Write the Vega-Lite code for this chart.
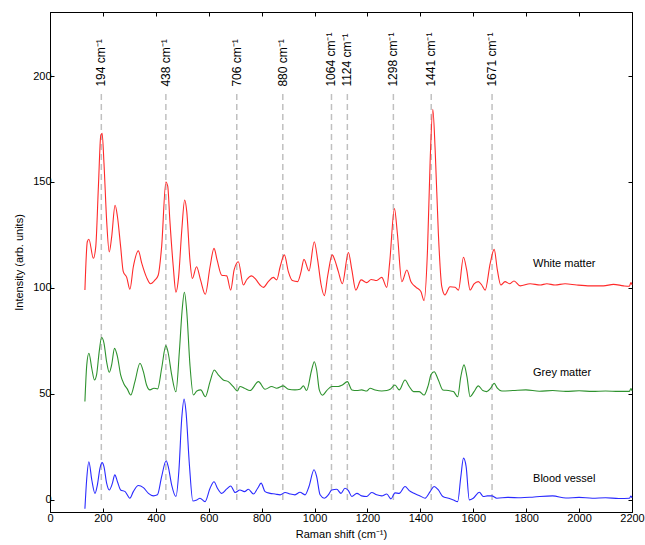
{
  "$schema": "https://vega.github.io/schema/vega-lite/v6.json",
  "autosize": "none",
  "width": 582,
  "height": 500,
  "padding": {"left": 50, "top": 12, "right": 13, "bottom": 33},
  "background": "white",
  "config": {
    "font": "Liberation Sans",
    "view": {"stroke": "#000000", "strokeWidth": 1},
    "axis": {"grid": false, "domainColor": "#000000", "tickColor": "#000000", "labelColor": "#000000", "labelFont": "Liberation Sans", "labelFontSize": 11, "titleFont": "Liberation Sans", "titleFontSize": 11, "titleFontWeight": "normal", "titleColor": "#000000", "tickSize": -4, "domainWidth": 1}
  },
  "datasets": {
    "spectra": [
      {"s":"White matter","x":132,"y":99},{"s":"White matter","x":141,"y":121.8},{"s":"White matter","x":147,"y":123},{"s":"White matter","x":164,"y":114},{"s":"White matter","x":173,"y":119.5},{"s":"White matter","x":183,"y":148},{"s":"White matter","x":192,"y":172},{"s":"White matter","x":197,"y":173},{"s":"White matter","x":204,"y":159},{"s":"White matter","x":214,"y":132},{"s":"White matter","x":224,"y":117},{"s":"White matter","x":233,"y":124},{"s":"White matter","x":246,"y":139},{"s":"White matter","x":255,"y":133.6},{"s":"White matter","x":267,"y":119.5},{"s":"White matter","x":277,"y":107.7},{"s":"White matter","x":290,"y":105},{"s":"White matter","x":302,"y":99.4},{"s":"White matter","x":315,"y":110},{"s":"White matter","x":334,"y":117.5},{"s":"White matter","x":347,"y":111.6},{"s":"White matter","x":365,"y":105},{"s":"White matter","x":380,"y":102},{"s":"White matter","x":397,"y":103.8},{"s":"White matter","x":409,"y":106},{"s":"White matter","x":422,"y":119.5},{"s":"White matter","x":438,"y":150},{"s":"White matter","x":445,"y":148},{"s":"White matter","x":453,"y":132},{"s":"White matter","x":466,"y":110},{"s":"White matter","x":476,"y":98},{"s":"White matter","x":486,"y":105},{"s":"White matter","x":498,"y":127},{"s":"White matter","x":509,"y":141.5},{"s":"White matter","x":517,"y":136},{"s":"White matter","x":529,"y":113},{"s":"White matter","x":538,"y":104.5},{"s":"White matter","x":554,"y":110},{"s":"White matter","x":569,"y":103.8},{"s":"White matter","x":587,"y":97},{"s":"White matter","x":605,"y":110},{"s":"White matter","x":620,"y":118.7},{"s":"White matter","x":632,"y":113},{"s":"White matter","x":649,"y":106},{"s":"White matter","x":668,"y":105.7},{"s":"White matter","x":683,"y":99},{"s":"White matter","x":696,"y":108.5},{"s":"White matter","x":712,"y":112.4},{"s":"White matter","x":731,"y":101.4},{"s":"White matter","x":744,"y":104},{"s":"White matter","x":762,"y":105.7},{"s":"White matter","x":778,"y":104},{"s":"White matter","x":794,"y":101.4},{"s":"White matter","x":807,"y":100.3},{"s":"White matter","x":825,"y":103},{"s":"White matter","x":844,"y":105},{"s":"White matter","x":857,"y":103.8},{"s":"White matter","x":870,"y":110},{"s":"White matter","x":886,"y":115.6},{"s":"White matter","x":901,"y":107.7},{"s":"White matter","x":916,"y":103.5},{"s":"White matter","x":936,"y":103},{"s":"White matter","x":949,"y":107.7},{"s":"White matter","x":960,"y":113.5},{"s":"White matter","x":979,"y":108},{"s":"White matter","x":999,"y":121.8},{"s":"White matter","x":1012,"y":113},{"s":"White matter","x":1025,"y":101.4},{"s":"White matter","x":1037,"y":96.4},{"s":"White matter","x":1050,"y":106},{"s":"White matter","x":1067,"y":115.6},{"s":"White matter","x":1077,"y":113},{"s":"White matter","x":1090,"y":107.7},{"s":"White matter","x":1105,"y":102},{"s":"White matter","x":1128,"y":116.7},{"s":"White matter","x":1141,"y":108.5},{"s":"White matter","x":1156,"y":99},{"s":"White matter","x":1176,"y":103.8},{"s":"White matter","x":1197,"y":102.5},{"s":"White matter","x":1214,"y":104},{"s":"White matter","x":1235,"y":103.5},{"s":"White matter","x":1254,"y":105},{"s":"White matter","x":1273,"y":100.3},{"s":"White matter","x":1284,"y":112},{"s":"White matter","x":1302,"y":137.5},{"s":"White matter","x":1313,"y":125.8},{"s":"White matter","x":1330,"y":103},{"s":"White matter","x":1349,"y":108.5},{"s":"White matter","x":1364,"y":103},{"s":"White matter","x":1384,"y":100.3},{"s":"White matter","x":1402,"y":98.3},{"s":"White matter","x":1414,"y":94},{"s":"White matter","x":1427,"y":118},{"s":"White matter","x":1437,"y":160},{"s":"White matter","x":1447,"y":184.3},{"s":"White matter","x":1456,"y":165},{"s":"White matter","x":1468,"y":125.8},{"s":"White matter","x":1481,"y":100.6},{"s":"White matter","x":1493,"y":96.7},{"s":"White matter","x":1512,"y":100.6},{"s":"White matter","x":1531,"y":100.3},{"s":"White matter","x":1544,"y":99},{"s":"White matter","x":1563,"y":114.5},{"s":"White matter","x":1575,"y":108.5},{"s":"White matter","x":1588,"y":99},{"s":"White matter","x":1603,"y":101.9},{"s":"White matter","x":1619,"y":103},{"s":"White matter","x":1632,"y":101.4},{"s":"White matter","x":1645,"y":99},{"s":"White matter","x":1664,"y":111.6},{"s":"White matter","x":1679,"y":118.2},{"s":"White matter","x":1691,"y":108.5},{"s":"White matter","x":1704,"y":101.4},{"s":"White matter","x":1720,"y":103},{"s":"White matter","x":1737,"y":102},{"s":"White matter","x":1754,"y":103.3},{"s":"White matter","x":1777,"y":101},{"s":"White matter","x":1815,"y":102},{"s":"White matter","x":1853,"y":101.4},{"s":"White matter","x":1878,"y":102},{"s":"White matter","x":1909,"y":101.4},{"s":"White matter","x":1947,"y":102},{"s":"White matter","x":1991,"y":101.4},{"s":"White matter","x":2042,"y":101},{"s":"White matter","x":2092,"y":101},{"s":"White matter","x":2130,"y":101.7},{"s":"White matter","x":2168,"y":101},{"s":"White matter","x":2190,"y":100.8},{"s":"White matter","x":2196,"y":102.5},{"s":"White matter","x":2200,"y":101.5},
      {"s":"Grey matter","x":132,"y":46.4},{"s":"Grey matter","x":139,"y":63.7},{"s":"Grey matter","x":147,"y":69.2},{"s":"Grey matter","x":158,"y":62},{"s":"Grey matter","x":168,"y":56.6},{"s":"Grey matter","x":176,"y":59},{"s":"Grey matter","x":186,"y":70},{"s":"Grey matter","x":195,"y":76.6},{"s":"Grey matter","x":204,"y":74},{"s":"Grey matter","x":214,"y":65.2},{"s":"Grey matter","x":224,"y":60.2},{"s":"Grey matter","x":233,"y":63.7},{"s":"Grey matter","x":244,"y":71.5},{"s":"Grey matter","x":255,"y":67.6},{"s":"Grey matter","x":267,"y":59},{"s":"Grey matter","x":280,"y":54.6},{"s":"Grey matter","x":292,"y":52.4},{"s":"Grey matter","x":305,"y":49.5},{"s":"Grey matter","x":321,"y":55.8},{"s":"Grey matter","x":340,"y":64.5},{"s":"Grey matter","x":353,"y":60.5},{"s":"Grey matter","x":365,"y":54.2},{"s":"Grey matter","x":378,"y":51.9},{"s":"Grey matter","x":393,"y":52.7},{"s":"Grey matter","x":407,"y":52.4},{"s":"Grey matter","x":422,"y":62},{"s":"Grey matter","x":438,"y":72.8},{"s":"Grey matter","x":447,"y":69.2},{"s":"Grey matter","x":460,"y":59},{"s":"Grey matter","x":476,"y":51},{"s":"Grey matter","x":489,"y":70},{"s":"Grey matter","x":499,"y":88.8},{"s":"Grey matter","x":508,"y":98},{"s":"Grey matter","x":517,"y":88.8},{"s":"Grey matter","x":529,"y":63.7},{"s":"Grey matter","x":542,"y":49.5},{"s":"Grey matter","x":555,"y":51.4},{"s":"Grey matter","x":570,"y":51.9},{"s":"Grey matter","x":587,"y":48.7},{"s":"Grey matter","x":605,"y":55.8},{"s":"Grey matter","x":621,"y":61.3},{"s":"Grey matter","x":636,"y":59},{"s":"Grey matter","x":655,"y":56.6},{"s":"Grey matter","x":674,"y":55.8},{"s":"Grey matter","x":693,"y":53.4},{"s":"Grey matter","x":708,"y":51.4},{"s":"Grey matter","x":718,"y":53.5},{"s":"Grey matter","x":735,"y":52.7},{"s":"Grey matter","x":756,"y":51.6},{"s":"Grey matter","x":788,"y":55.8},{"s":"Grey matter","x":813,"y":52.2},{"s":"Grey matter","x":838,"y":53.5},{"s":"Grey matter","x":857,"y":52.7},{"s":"Grey matter","x":882,"y":53.8},{"s":"Grey matter","x":901,"y":52.2},{"s":"Grey matter","x":926,"y":51.9},{"s":"Grey matter","x":945,"y":52.2},{"s":"Grey matter","x":958,"y":53.8},{"s":"Grey matter","x":970,"y":51.6},{"s":"Grey matter","x":989,"y":61.3},{"s":"Grey matter","x":999,"y":65.2},{"s":"Grey matter","x":1008,"y":61.3},{"s":"Grey matter","x":1018,"y":51.9},{"s":"Grey matter","x":1030,"y":49.4},{"s":"Grey matter","x":1046,"y":51.6},{"s":"Grey matter","x":1065,"y":53.5},{"s":"Grey matter","x":1090,"y":53.5},{"s":"Grey matter","x":1105,"y":54.2},{"s":"Grey matter","x":1124,"y":55.8},{"s":"Grey matter","x":1141,"y":51.9},{"s":"Grey matter","x":1160,"y":51.6},{"s":"Grey matter","x":1178,"y":51.9},{"s":"Grey matter","x":1197,"y":51.4},{"s":"Grey matter","x":1210,"y":52.7},{"s":"Grey matter","x":1229,"y":51.9},{"s":"Grey matter","x":1254,"y":51.4},{"s":"Grey matter","x":1273,"y":51.6},{"s":"Grey matter","x":1286,"y":52.2},{"s":"Grey matter","x":1304,"y":54.2},{"s":"Grey matter","x":1320,"y":51.9},{"s":"Grey matter","x":1342,"y":56.6},{"s":"Grey matter","x":1358,"y":53.5},{"s":"Grey matter","x":1374,"y":51.1},{"s":"Grey matter","x":1396,"y":51.1},{"s":"Grey matter","x":1414,"y":49.5},{"s":"Grey matter","x":1430,"y":54.2},{"s":"Grey matter","x":1440,"y":59},{"s":"Grey matter","x":1452,"y":60.5},{"s":"Grey matter","x":1468,"y":56.6},{"s":"Grey matter","x":1485,"y":51.9},{"s":"Grey matter","x":1506,"y":51.6},{"s":"Grey matter","x":1525,"y":51.1},{"s":"Grey matter","x":1541,"y":48.7},{"s":"Grey matter","x":1553,"y":58.2},{"s":"Grey matter","x":1565,"y":63.7},{"s":"Grey matter","x":1576,"y":58.2},{"s":"Grey matter","x":1588,"y":48.7},{"s":"Grey matter","x":1603,"y":51.1},{"s":"Grey matter","x":1619,"y":53.8},{"s":"Grey matter","x":1636,"y":51.6},{"s":"Grey matter","x":1651,"y":51.1},{"s":"Grey matter","x":1666,"y":52.7},{"s":"Grey matter","x":1679,"y":55},{"s":"Grey matter","x":1691,"y":52.7},{"s":"Grey matter","x":1708,"y":51.4},{"s":"Grey matter","x":1750,"y":51.6},{"s":"Grey matter","x":1799,"y":51.9},{"s":"Grey matter","x":1850,"y":51.3},{"s":"Grey matter","x":1900,"y":51.6},{"s":"Grey matter","x":1950,"y":51.2},{"s":"Grey matter","x":2000,"y":51.5},{"s":"Grey matter","x":2050,"y":51.2},{"s":"Grey matter","x":2100,"y":51.4},{"s":"Grey matter","x":2150,"y":51.2},{"s":"Grey matter","x":2190,"y":51.2},{"s":"Grey matter","x":2196,"y":52.5},{"s":"Grey matter","x":2200,"y":51.5},
      {"s":"Blood vessel","x":132,"y":-4.2},{"s":"Blood vessel","x":139,"y":10.2},{"s":"Blood vessel","x":147,"y":18},{"s":"Blood vessel","x":158,"y":9.4},{"s":"Blood vessel","x":170,"y":3.1},{"s":"Blood vessel","x":179,"y":7},{"s":"Blood vessel","x":189,"y":15},{"s":"Blood vessel","x":197,"y":17.6},{"s":"Blood vessel","x":204,"y":15.7},{"s":"Blood vessel","x":214,"y":7.9},{"s":"Blood vessel","x":224,"y":4.7},{"s":"Blood vessel","x":236,"y":7.9},{"s":"Blood vessel","x":245,"y":11.8},{"s":"Blood vessel","x":255,"y":8.6},{"s":"Blood vessel","x":267,"y":4.7},{"s":"Blood vessel","x":284,"y":3.9},{"s":"Blood vessel","x":302,"y":0.8},{"s":"Blood vessel","x":315,"y":3.9},{"s":"Blood vessel","x":334,"y":6.8},{"s":"Blood vessel","x":353,"y":5.8},{"s":"Blood vessel","x":372,"y":3.1},{"s":"Blood vessel","x":391,"y":1.9},{"s":"Blood vessel","x":406,"y":2.4},{"s":"Blood vessel","x":422,"y":11},{"s":"Blood vessel","x":439,"y":18.5},{"s":"Blood vessel","x":447,"y":15.7},{"s":"Blood vessel","x":460,"y":7},{"s":"Blood vessel","x":476,"y":1.6},{"s":"Blood vessel","x":487,"y":13.4},{"s":"Blood vessel","x":498,"y":38.5},{"s":"Blood vessel","x":507,"y":47.6},{"s":"Blood vessel","x":514,"y":41.7},{"s":"Blood vessel","x":527,"y":16.5},{"s":"Blood vessel","x":540,"y":-0.5},{"s":"Blood vessel","x":555,"y":0},{"s":"Blood vessel","x":567,"y":0.8},{"s":"Blood vessel","x":586,"y":-0.8},{"s":"Blood vessel","x":605,"y":5.5},{"s":"Blood vessel","x":620,"y":8.6},{"s":"Blood vessel","x":633,"y":5.5},{"s":"Blood vessel","x":649,"y":3.1},{"s":"Blood vessel","x":668,"y":5.2},{"s":"Blood vessel","x":683,"y":6.6},{"s":"Blood vessel","x":700,"y":3.5},{"s":"Blood vessel","x":718,"y":4.7},{"s":"Blood vessel","x":735,"y":3.9},{"s":"Blood vessel","x":750,"y":5},{"s":"Blood vessel","x":769,"y":2.8},{"s":"Blood vessel","x":785,"y":5.5},{"s":"Blood vessel","x":798,"y":7.9},{"s":"Blood vessel","x":813,"y":3.9},{"s":"Blood vessel","x":832,"y":3.1},{"s":"Blood vessel","x":851,"y":2.8},{"s":"Blood vessel","x":870,"y":2.4},{"s":"Blood vessel","x":889,"y":3.5},{"s":"Blood vessel","x":907,"y":2.8},{"s":"Blood vessel","x":926,"y":2.4},{"s":"Blood vessel","x":945,"y":3.6},{"s":"Blood vessel","x":964,"y":2.4},{"s":"Blood vessel","x":979,"y":6.3},{"s":"Blood vessel","x":998,"y":14.2},{"s":"Blood vessel","x":1008,"y":11},{"s":"Blood vessel","x":1021,"y":2.4},{"s":"Blood vessel","x":1037,"y":0.8},{"s":"Blood vessel","x":1052,"y":2.4},{"s":"Blood vessel","x":1065,"y":4.7},{"s":"Blood vessel","x":1084,"y":5},{"s":"Blood vessel","x":1100,"y":3.1},{"s":"Blood vessel","x":1115,"y":5.5},{"s":"Blood vessel","x":1128,"y":4.4},{"s":"Blood vessel","x":1141,"y":1.6},{"s":"Blood vessel","x":1160,"y":3.1},{"s":"Blood vessel","x":1178,"y":1.9},{"s":"Blood vessel","x":1197,"y":1.6},{"s":"Blood vessel","x":1216,"y":3.5},{"s":"Blood vessel","x":1235,"y":2.4},{"s":"Blood vessel","x":1254,"y":1.9},{"s":"Blood vessel","x":1273,"y":2.8},{"s":"Blood vessel","x":1289,"y":0.5},{"s":"Blood vessel","x":1304,"y":3.3},{"s":"Blood vessel","x":1320,"y":3.1},{"s":"Blood vessel","x":1342,"y":6.3},{"s":"Blood vessel","x":1358,"y":4.4},{"s":"Blood vessel","x":1376,"y":3.1},{"s":"Blood vessel","x":1399,"y":1.9},{"s":"Blood vessel","x":1418,"y":0.8},{"s":"Blood vessel","x":1437,"y":3.9},{"s":"Blood vessel","x":1452,"y":6.3},{"s":"Blood vessel","x":1468,"y":4.7},{"s":"Blood vessel","x":1485,"y":1.6},{"s":"Blood vessel","x":1506,"y":0.8},{"s":"Blood vessel","x":1525,"y":0},{"s":"Blood vessel","x":1541,"y":-0.8},{"s":"Blood vessel","x":1553,"y":11},{"s":"Blood vessel","x":1563,"y":19.7},{"s":"Blood vessel","x":1573,"y":15.7},{"s":"Blood vessel","x":1585,"y":0},{"s":"Blood vessel","x":1600,"y":0.8},{"s":"Blood vessel","x":1623,"y":3.6},{"s":"Blood vessel","x":1638,"y":1.6},{"s":"Blood vessel","x":1653,"y":1.9},{"s":"Blood vessel","x":1670,"y":1.9},{"s":"Blood vessel","x":1689,"y":0.8},{"s":"Blood vessel","x":1730,"y":1.2},{"s":"Blood vessel","x":1780,"y":1},{"s":"Blood vessel","x":1830,"y":1.4},{"s":"Blood vessel","x":1900,"y":1.9},{"s":"Blood vessel","x":1950,"y":0.9},{"s":"Blood vessel","x":2000,"y":1.2},{"s":"Blood vessel","x":2050,"y":0.8},{"s":"Blood vessel","x":2100,"y":1},{"s":"Blood vessel","x":2150,"y":0.7},{"s":"Blood vessel","x":2190,"y":0.8},{"s":"Blood vessel","x":2196,"y":1.8},{"s":"Blood vessel","x":2200,"y":1}
    ],
    "peaks": [
      {"x":194,"label":"194 cm⁻¹"},{"x":438,"label":"438 cm⁻¹"},{"x":706,"label":"706 cm⁻¹"},{"x":880,"label":"880 cm⁻¹"},{"x":1064,"label":"1064 cm⁻¹"},{"x":1124,"label":"1124 cm⁻¹"},{"x":1298,"label":"1298 cm⁻¹"},{"x":1441,"label":"1441 cm⁻¹"},{"x":1671,"label":"1671 cm⁻¹"}
    ],
    "names": [
      {"x":1826,"y":111.3,"name":"White matter"},{"x":1826,"y":60,"name":"Grey matter"},{"x":1826,"y":9.9,"name":"Blood vessel"}
    ]
  },
  "layer": [
    {
      "data": {"name": "peaks"},
      "mark": {"type": "rule", "color": "#c0c0c0", "strokeWidth": 1.5, "strokeDash": [6, 4]},
      "encoding": {
        "x": {"field": "x", "type": "quantitative", "scale": {"domain": [0, 2200], "nice": false, "zero": false}, "axis": null},
        "y": {"datum": 0, "type": "quantitative", "scale": {"domain": [-5.7, 230.2], "nice": false, "zero": false}, "axis": null},
        "y2": {"datum": 193}
      }
    },
    {
      "data": {"name": "spectra"},
      "mark": {"type": "line", "strokeWidth": 1.1, "interpolate": "monotone"},
      "encoding": {
        "x": {"field": "x", "type": "quantitative", "scale": {"domain": [0, 2200], "nice": false, "zero": false},
              "axis": {"orient": "bottom", "values": [0,200,400,600,800,1000,1200,1400,1600,1800,2000,2200], "format": "d", "labelPadding": 4, "labelFlush": false, "labelOverlap": false, "title": "Raman shift (cm⁻¹)", "titlePadding": 5}},
        "y": {"field": "y", "type": "quantitative", "scale": {"domain": [-5.7, 230.2], "nice": false, "zero": false},
              "axis": {"orient": "left", "values": [0,50,100,150,200], "format": "d", "labelPadding": 3, "title": "Intensity (arb. units)", "titlePadding": 8}},
        "color": {"field": "s", "type": "nominal", "scale": {"domain": ["White matter", "Grey matter", "Blood vessel"], "range": ["#ff2a2a", "#2e922e", "#2a2aff"]}, "legend": null},
        "detail": {"field": "s"}
      }
    },
    {
      "data": {"name": "spectra"},
      "mark": {"type": "line", "opacity": 0},
      "encoding": {
        "x": {"field": "x", "type": "quantitative", "scale": {"domain": [0, 2200], "nice": false, "zero": false},
              "axis": {"orient": "top", "values": [0,200,400,600,800,1000,1200,1400,1600,1800,2000,2200], "labels": false, "title": null}},
        "y": {"field": "y", "type": "quantitative", "scale": {"domain": [-5.7, 230.2], "nice": false, "zero": false},
              "axis": {"orient": "right", "values": [0,50,100,150,200], "labels": false, "title": null}},
        "detail": {"field": "s"}
      }
    },
    {
      "data": {"name": "peaks"},
      "mark": {"type": "text", "angle": 270, "align": "left", "baseline": "middle", "fontSize": 12, "font": "Liberation Sans", "color": "#000000"},
      "encoding": {
        "x": {"field": "x", "type": "quantitative", "scale": {"domain": [0, 2200], "nice": false, "zero": false}, "axis": null},
        "y": {"datum": 195, "type": "quantitative", "scale": {"domain": [-5.7, 230.2], "nice": false, "zero": false}, "axis": null},
        "text": {"field": "label"}
      }
    },
    {
      "data": {"name": "names"},
      "mark": {"type": "text", "align": "left", "baseline": "middle", "fontSize": 11, "font": "Liberation Sans", "color": "#000000"},
      "encoding": {
        "x": {"field": "x", "type": "quantitative", "scale": {"domain": [0, 2200], "nice": false, "zero": false}, "axis": null},
        "y": {"field": "y", "type": "quantitative", "scale": {"domain": [-5.7, 230.2], "nice": false, "zero": false}, "axis": null},
        "text": {"field": "name"}
      }
    }
  ],
  "resolve": {"axis": {"x": "independent", "y": "independent"}}
}
